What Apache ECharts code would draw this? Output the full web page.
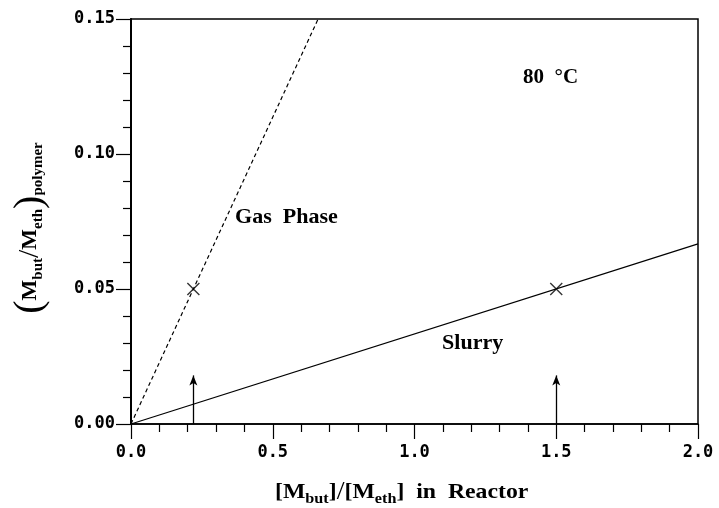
<!DOCTYPE html>
<html>
<head>
<meta charset="utf-8">
<script src="https://cdn.jsdelivr.net/npm/echarts@6/dist/echarts.min.js"></script>
<style>html,body{margin:0;padding:0;background:#fff}#c{width:719px;height:508px}</style>
</head>
<body>
<div id="c"></div>
<script>
// ---- data ----
const gasPhaseLine = [[0, 0], [0.66, 0.15]];
const slurryLine = [[0, 0], [2.0, 0.0667]];
const markerPoints = [[0.22, 0.05], [1.5, 0.05]];
const arrowX = [0.22, 1.5];
const arrowTop = 0.018;
const xRange = [0, 2.0];
const yRange = [0, 0.15];
const xStep = 0.5;
const yStep = 0.05;
const labelGas = 'Gas  Phase';
const labelSlurry = 'Slurry';
const labelTemp = '80  \u00B0C';

const chart = echarts.init(document.getElementById('c'), null, {renderer: 'canvas'});
const tickFont = {fontFamily: 'DejaVu Sans Mono', fontWeight: 'bold', fontSize: 17, color: '#000'};
const serif = 'Liberation Serif';

const option = {
  animation: false,
  backgroundColor: '#fff',
  grid: {left: 131, right: 21, top: 19, bottom: 84, show: true, borderColor: '#000', borderWidth: 1.5, backgroundColor: 'transparent'},
  xAxis: {
    type: 'value', min: xRange[0], max: xRange[1], interval: xStep,
    axisLine: {show: true, onZero: false, lineStyle: {color: '#000', width: 1.5}},
    axisTick: {show: true, inside: false, length: 15, lineStyle: {color: '#000', width: 1.2}},
    minorTick: {show: true, splitNumber: 5, length: 8, lineStyle: {color: '#000', width: 1.2}},
    splitLine: {show: false},
    axisLabel: Object.assign({margin: 20, formatter: v => v.toFixed(1)}, tickFont)
  },
  yAxis: {
    type: 'value', min: yRange[0], max: yRange[1], interval: yStep,
    axisLine: {show: true, onZero: false, lineStyle: {color: '#000', width: 2}},
    axisTick: {show: true, inside: false, length: 15, lineStyle: {color: '#000', width: 1.2}},
    minorTick: {show: true, splitNumber: 5, length: 8, lineStyle: {color: '#000', width: 1.2}},
    splitLine: {show: false},
    axisLabel: Object.assign({margin: 16, formatter: v => v.toFixed(2)}, tickFont)
  },
  series: [
    {
      name: 'Gas Phase', type: 'line', data: gasPhaseLine, symbol: 'none', silent: true,
      lineStyle: {color: '#000', width: 1.2, type: [4, 3]}
    },
    {
      name: 'Slurry', type: 'line', data: slurryLine, symbol: 'none', silent: true,
      lineStyle: {color: '#000', width: 1.2}
    },
    {
      name: 'points', type: 'scatter', data: markerPoints,
      symbol: 'path://M0,0L10,10M10,0L0,10', symbolSize: 12,
      itemStyle: {color: 'none', borderColor: '#000', borderWidth: 1.4}
    },
    {
      name: 'arrows', type: 'line', data: [], silent: true,
      markLine: {
        silent: true, animation: false,
        symbol: ['none', 'arrow'], symbolSize: [6, 10],
        label: {show: false},
        lineStyle: {color: '#000', width: 1.3, type: 'solid'},
        data: arrowX.map(x => [{coord: [x, 0]}, {coord: [x, arrowTop]}])
      }
    }
  ],
  graphic: [
    {type: 'text', left: 235, top: 207, scaleX: 1.05, style: {text: labelGas, font: 'bold 21px "Liberation Serif"', fill: '#000'}},
    {type: 'text', left: 442, top: 333, scaleX: 1.05, style: {text: labelSlurry, font: 'bold 21px "Liberation Serif"', fill: '#000'}},
    {type: 'text', left: 523, top: 67, style: {text: labelTemp, font: 'bold 21px "Liberation Serif"', fill: '#000'}},
    {
      type: 'text', x: 275, y: 492, scaleX: 1.08,
      style: {
        text: '{m|[M}{s|but}{m|]}{sl|/}{m|[M}{s|eth}{m|]}{m|  in  Reactor}',
        align: 'left', verticalAlign: 'middle', fill: '#000',
        rich: {
          m: {fontFamily: serif, fontWeight: 'bold', fontSize: 22, lineHeight: 26},
          s: {fontFamily: serif, fontWeight: 'bold', fontSize: 15, lineHeight: 15, padding: [15, 0, 0, 0]},
          sl: {fontFamily: serif, fontWeight: 'normal', fontSize: 26, lineHeight: 26},
          p: {fontFamily: serif, fontWeight: 'normal', fontSize: 40, lineHeight: 40}
        }
      }
    },
    {
      type: 'text', x: 30, y: 228, rotation: Math.PI / 2,
      style: {
        text: '{p|(}{m|M}{s|but}{sl|/}{m|M}{s|eth}{p|)}{s|polymer}',
        align: 'center', verticalAlign: 'middle', fill: '#000',
        rich: {
          m: {fontFamily: serif, fontWeight: 'bold', fontSize: 22, lineHeight: 26},
          s: {fontFamily: serif, fontWeight: 'bold', fontSize: 15, lineHeight: 15, padding: [16, 0, 0, 0]},
          sl: {fontFamily: serif, fontWeight: 'normal', fontSize: 30, lineHeight: 30},
          p: {fontFamily: serif, fontWeight: 'normal', fontSize: 40, lineHeight: 40}
        }
      }
    }
  ]
};
chart.setOption(option);
</script>
</body>
</html>
